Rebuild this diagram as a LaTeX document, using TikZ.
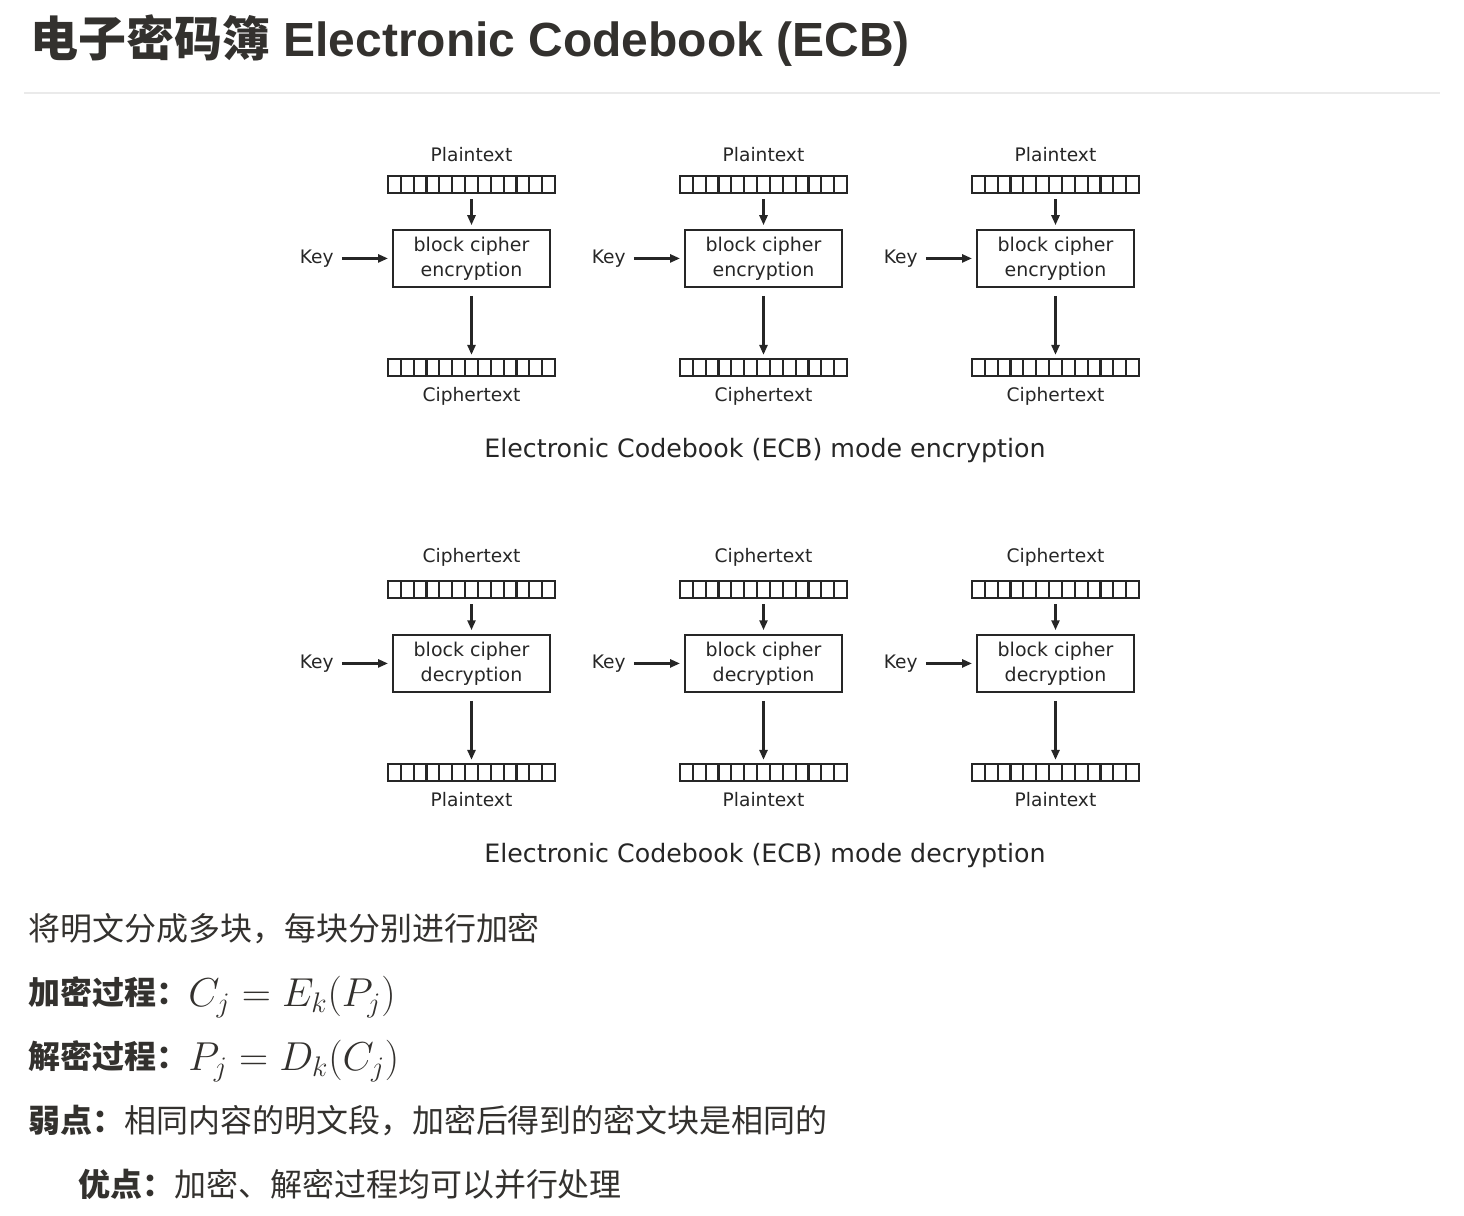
\documentclass[tikz,border=0pt]{standalone}
\usepackage{fix-cm}
\usepackage{fontspec}
\setmainfont{DejaVu Sans}
\newfontfamily\cjk{Noto Sans CJK SC}
\newfontfamily\heading{Liberation Sans}
\usetikzlibrary{positioning, arrows.meta}
\definecolor{ink}{RGB}{51,49,46}
\definecolor{figink}{RGB}{38,38,38}
\definecolor{rulegray}{RGB}{234,234,234}
\tikzstyle{blockstrip} = [rectangle, draw=figink, line width=1.25pt, minimum width=3.34cm, minimum height=0.34cm, inner sep=0pt,
  path picture={\foreach \i in {1,...,12} \draw[figink, line width=1.25pt] ([xshift=\i*0.2569cm]path picture bounding box.south west) -- ([xshift=\i*0.2569cm]path picture bounding box.north west);}]
\tikzstyle{cipher} = [rectangle, draw=figink, line width=1.25pt, minimum width=3.14cm, minimum height=1.13cm, align=center, text=figink, font=\fontsize{10.8}{14.2}\selectfont]
\tikzstyle{tag} = [inner sep=0pt, text=figink, font=\fontsize{10.6}{12}\selectfont]
\tikzstyle{caption} = [inner sep=0pt, text=figink, font=\fontsize{14.4}{16}\selectfont]
\tikzstyle{arrow} = [figink, line width=1.25pt, -{Triangle[length=5.6pt,width=4.6pt]}]
\tikzstyle{body} = [anchor=base west, inner sep=0pt, text=ink, font=\cjk\fontsize{18.2}{22}\selectfont]
\tikzstyle{bodybold} = [anchor=base west, inner sep=0pt, text=ink, font=\cjk\bfseries\fontsize{18.2}{22}\selectfont]
\tikzstyle{formula} = [anchor=base west, inner sep=0pt, text=ink, font=\fontsize{23}{27}\selectfont]

\begin{document}
\begin{tikzpicture}[x=0.02cm, y=-0.02cm]
    \useasboundingbox (0,0) rectangle (1464,1216);
    % heading and rule
    \node[anchor=base west, inner sep=0pt, text=ink, font=\heading\bfseries\fontsize{27.3}{32}\selectfont] (title) at (30,57) {{\cjk\bfseries 电子密码簿} Electronic Codebook (ECB)};
    \draw[rulegray, line width=1.2pt] (24,93) -- (1440,93);

    % encryption row
    \foreach \c/\x in {1/471.5, 2/763.5, 3/1055.5} {
        \node (pin\c) [blockstrip] at (\x,184.5) {};
        \node (plab\c) [tag, above=0.26cm of pin\c] {Plaintext};
        \node (enc\c) [cipher, below=0.7cm of pin\c] {block cipher\\encryption};
        \node (cout\c) [blockstrip, below=1.4cm of enc\c] {};
        \node (clab\c) [tag, below=0.2cm of cout\c] {Ciphertext};
        \node (ekey\c) [tag, left=1.16cm of enc\c] {Key};
        \draw [arrow, shorten <=0.1cm, shorten >=0.08cm] (pin\c) -- (enc\c);
        \draw [arrow, shorten <=0.16cm, shorten >=0.06cm] (enc\c) -- (cout\c);
        \draw [arrow, shorten <=0.16cm, shorten >=0.08cm] (ekey\c) -- (enc\c);
    }
    \node (enccap) [caption] at (765,451) {Electronic Codebook (ECB) mode encryption};

    % decryption row
    \foreach \c/\x in {1/471.5, 2/763.5, 3/1055.5} {
        \node (cin\c) [blockstrip] at (\x,589.5) {};
        \node (cilab\c) [tag, above=0.26cm of cin\c] {Ciphertext};
        \node (dec\c) [cipher, below=0.7cm of cin\c] {block cipher\\decryption};
        \node (pout\c) [blockstrip, below=1.4cm of dec\c] {};
        \node (polab\c) [tag, below=0.2cm of pout\c] {Plaintext};
        \node (dkey\c) [tag, left=1.16cm of dec\c] {Key};
        \draw [arrow, shorten <=0.1cm, shorten >=0.08cm] (cin\c) -- (dec\c);
        \draw [arrow, shorten <=0.16cm, shorten >=0.06cm] (dec\c) -- (pout\c);
        \draw [arrow, shorten <=0.16cm, shorten >=0.08cm] (dkey\c) -- (dec\c);
    }
    \node (deccap) [caption] at (765,856) {Electronic Codebook (ECB) mode decryption};

    % notes
    \node (split) [body] at (28,940) {将明文分成多块，每块分别进行加密};
    \node (encname) [bodybold] at (28,1004) {加密过程：};
    \node (enceq) [formula] at (188,1006) {$C_j = E_k(P_j)$};
    \node (decname) [bodybold] at (28,1068) {解密过程：};
    \node (deceq) [formula] at (188,1070) {$P_j = D_k(C_j)$};
    \node (weak) [body] at (28,1132) {{\bfseries 弱点：}相同内容的明文段，加密后得到的密文块是相同的};
    \node (strong) [body] at (78,1196) {{\bfseries 优点：}加密、解密过程均可以并行处理};
\end{tikzpicture}
\end{document}
